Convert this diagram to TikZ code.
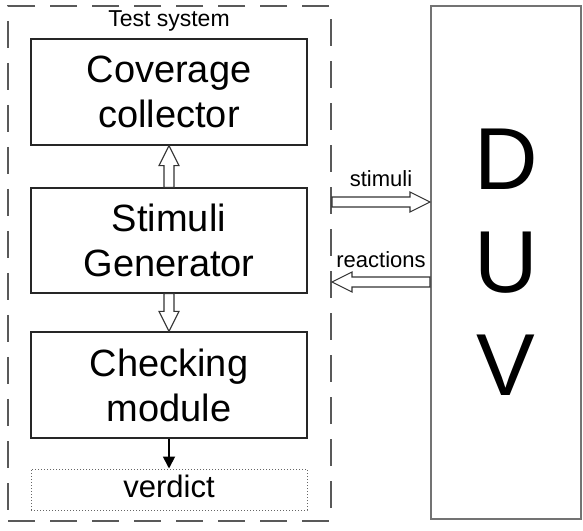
\documentclass[tikz,border=0pt]{standalone}
\usepackage{fontspec}
\setmainfont{Liberation Sans}
\usetikzlibrary{calc,arrows.meta}
\newcommand\hollowarr[2]{%
  \path (#2) coordinate (ht) ($(#2)!20pt!(#1)$) coordinate (hb) (#1) coordinate (hs);
  \draw[blk] ($(hs)!5pt!90:(ht)$) -- ($(hb)!5pt!90:(ht)$) -- ($(hb)!10pt!90:(ht)$) -- (ht)
    -- ($(hb)!10pt!-90:(ht)$) -- ($(hb)!5pt!-90:(ht)$) -- ($(hs)!5pt!-90:(ht)$) -- cycle;}
\begin{document}
\begin{tikzpicture}[x=1pt,y=1pt,
  box/.style={draw=black!85, line width=1.3pt, minimum width=276pt, align=center,
    inner sep=0pt, font=\fontsize{38}{45}\selectfont},
  blk/.style={draw=black!80, line width=1.1pt, fill=white, line join=miter},
  lbl/.style={font=\fontsize{22}{26}\selectfont, anchor=base, inner sep=0pt}]
\useasboundingbox (0,0) rectangle (583,530);
\node[draw=black!65, line width=2pt, dash pattern=on 27pt off 15pt,
  minimum width=323pt, minimum height=515pt, inner sep=0pt] (ts) at (169.5,266.5) {};
\node[font=\fontsize{23}{27}\selectfont, anchor=base, inner sep=0pt] (tsl) at (169,503) {Test system};
\node[box, minimum height=106pt] (cc) at (169,438) {Coverage\\collector};
\node[box, minimum height=105pt] (sg) at (169,289.5) {Stimuli\\Generator};
\node[box, minimum height=106pt] (cm) at (169,145) {Checking\\module};
\node[draw=black!60, line width=1pt, dotted, minimum width=276pt, minimum height=41pt,
  inner sep=0pt, text height=22pt, text depth=7pt, font=\fontsize{31}{36}\selectfont] (vd) at (169,40.5) {verdict};
\node[draw=black!55, line width=2pt, minimum width=150pt, minimum height=513pt, inner sep=0pt,
  align=center, font=\fontsize{88}{103}\selectfont] (duv) at (506,267.5) {D\\U\\V};
\hollowarr{sg.north}{cc.south}
\hollowarr{sg.south}{cm.north}
\path (ts.east) ++(0,61.5) coordinate (stA);
\path (duv.west |- stA) coordinate (stB);
\hollowarr{stA}{stB}
\path (ts.east) ++(0,-18.5) coordinate (reB);
\path (duv.west |- reB) coordinate (reA);
\hollowarr{reA}{reB}
\node[lbl] (lst) at (381,343) {stimuli};
\node[lbl] (lre) at (381,262) {reactions};
\draw[line width=1.8pt, -{Triangle[length=12pt,width=12pt]}] (cm.south) -- (vd.north);
\end{tikzpicture}
\end{document}
